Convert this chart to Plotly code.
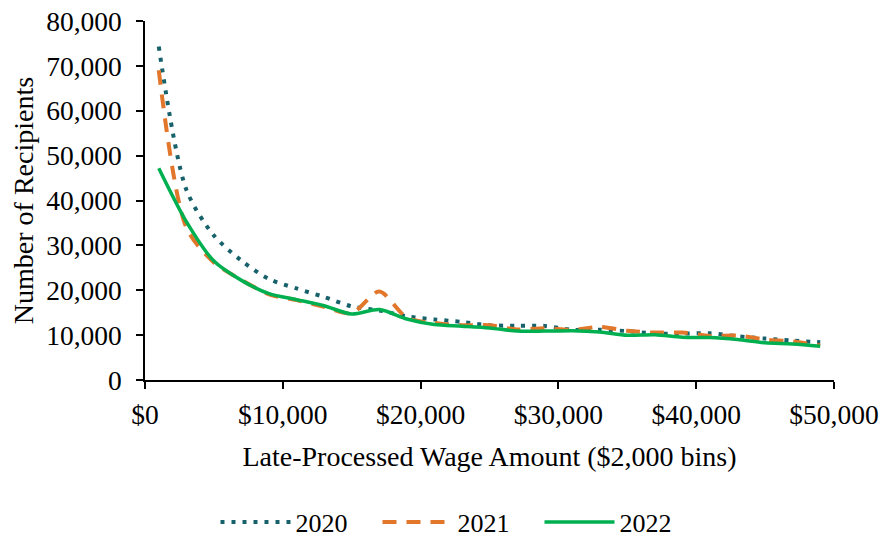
import plotly.graph_objects as go

# Midpoints of the $2,000 wage bins
wage_bins = [1000, 3000, 5000, 7000, 9000, 11000, 13000, 15000, 17000, 19000,
             21000, 23000, 25000, 27000, 29000, 31000, 33000, 35000, 37000, 39000,
             41000, 43000, 45000, 47000, 49000]

recipients_2020 = [74300, 42400, 32200, 26600, 22500, 20400, 18500, 16400, 15500, 14200,
                   13500, 12950, 12200, 12100, 12050, 11200, 11200, 10900, 10350, 10350,
                   10400, 9750, 9230, 8800, 8400]
recipients_2021 = [69000, 34000, 26200, 22300, 19100, 17800, 16300, 14900, 19700, 13900,
                   12700, 12200, 12200, 11240, 11550, 11150, 11850, 10950, 10570, 10570,
                   9830, 9900, 9010, 8570, 7700]
recipients_2022 = [47200, 35300, 26500, 22200, 19250, 17900, 16550, 14700, 15700, 13600,
                   12350, 12000, 11600, 10900, 10900, 11000, 10700, 9970, 10100, 9530,
                   9460, 9000, 8280, 8050, 7520]

x_ticks = [0, 10000, 20000, 30000, 40000, 50000]
x_tick_labels = ["$0", "$10,000", "$20,000", "$30,000", "$40,000", "$50,000"]
y_ticks = [0, 10000, 20000, 30000, 40000, 50000, 60000, 70000, 80000]
y_tick_labels = ["0", "10,000", "20,000", "30,000", "40,000", "50,000",
                 "60,000", "70,000", "80,000"]

FONT = "Liberation Serif, Times New Roman, serif"

fig = go.Figure()
fig.add_trace(go.Scatter(
    x=wage_bins, y=recipients_2020, name="2020", mode="lines",
    line=dict(color="#17616B", width=4, dash="4px,7px", shape="spline", smoothing=0.8),
))
fig.add_trace(go.Scatter(
    x=wage_bins, y=recipients_2021, name="2021", mode="lines",
    line=dict(color="#E2762B", width=4, dash="14px,10px", shape="spline", smoothing=0.8),
))
fig.add_trace(go.Scatter(
    x=wage_bins, y=recipients_2022, name="2022", mode="lines",
    line=dict(color="#00B050", width=3.5, shape="spline", smoothing=0.8),
))

axis_common = dict(
    showline=True, linecolor="black", linewidth=1.5,
    ticks="outside", ticklen=7, tickwidth=1.5, tickcolor="black",
    showgrid=False, zeroline=False,
    tickfont=dict(family=FONT, size=27.5, color="black"),
)

fig.update_xaxes(
    range=[0, 50000], tickvals=x_ticks, ticktext=x_tick_labels,
    title=dict(text="Late-Processed Wage Amount ($2,000 bins)",
               font=dict(family=FONT, size=28, color="black"), standoff=18),
    ticklabelstandoff=2,
    **axis_common,
)
fig.update_yaxes(
    range=[0, 80000], tickvals=y_ticks, ticktext=y_tick_labels,
    title=dict(text="Number of Recipients",
               font=dict(family=FONT, size=28, color="black"), standoff=4),
    ticklabelstandoff=9,
    **axis_common,
)

fig.update_layout(
    width=884, height=539,
    margin=dict(l=145, r=50, t=21, b=158.5, autoexpand=False),
    plot_bgcolor="white", paper_bgcolor="white",
    font=dict(family=FONT, size=26, color="black"),
    showlegend=True,
    legend=dict(
        orientation="h", x=0.455, xanchor="center", y=-0.396, yanchor="middle",
        font=dict(family=FONT, size=26, color="black"),
        itemwidth=70, entrywidth=77, entrywidthmode="pixels", tracegroupgap=0,
    ),
)

fig.write_html("out.html")
